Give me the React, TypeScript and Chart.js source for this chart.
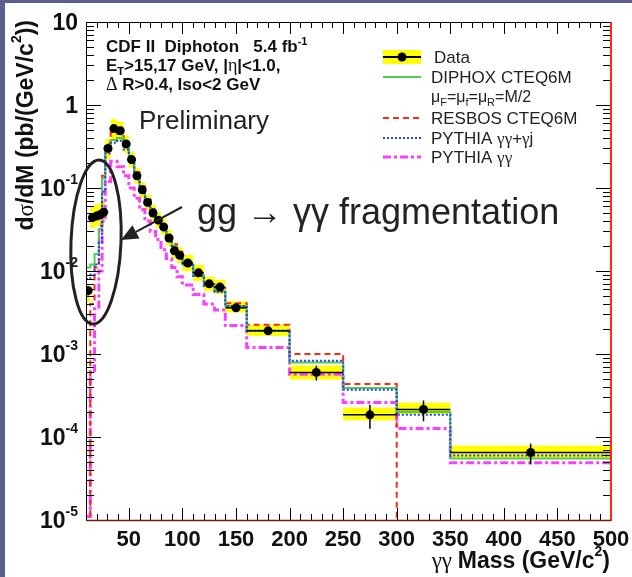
import React, { useEffect, useRef } from "react";
import { Chart, registerables } from "chart.js";
Chart.register(...registerables);

const W = 632;
const H = 577;

// Bin edges (GeV/c^2)
const binEdges = [10, 14, 18, 22, 25, 28, 33, 39, 45, 50, 55, 60, 65, 70, 75, 80, 85, 90, 95, 100, 110, 120, 130, 140, 160, 200, 250, 300, 350, 500];

// Measured dσ/dM (pb/(GeV/c^2))
const dataValues = [5.8e-3, 0.044, 0.046, 0.048, 0.051, 0.30, 0.52, 0.49, 0.34, 0.22, 0.14, 0.095, 0.067, 0.050, 0.041, 0.034, 0.025, 0.0175, 0.0155, 0.0125, 0.0095, 0.0070, 0.0064, 0.0036, 0.0019, 6.0e-4, 1.85e-4, 2.15e-4, 6.5e-5];
const dataStatRel = [0.12, 0.1, 0.1, 0.1, 0.1, 0.05, 0.04, 0.04, 0.04, 0.04, 0.04, 0.04, 0.04, 0.04, 0.04, 0.05, 0.05, 0.05, 0.05, 0.05, 0.05, 0.06, 0.06, 0.08, 0.10, 0.20, 0.32, 0.28, 0.28];
const dataSysUpRel = [0.15, 0.38, 0.38, 0.38, 0.38, 0.30, 0.30, 0.28, 0.26, 0.25, 0.25, 0.25, 0.25, 0.25, 0.25, 0.25, 0.25, 0.25, 0.25, 0.25, 0.25, 0.22, 0.22, 0.20, 0.18, 0.21, 0.22, 0.20, 0.21];
const dataSysDnRel = [0.28, 0.25, 0.25, 0.25, 0.25, 0.25, 0.30, 0.25, 0.22, 0.20, 0.20, 0.20, 0.20, 0.20, 0.20, 0.20, 0.20, 0.20, 0.20, 0.20, 0.20, 0.18, 0.18, 0.12, 0.13, 0.18, 0.14, 0.12, 0.15];

// Theory predictions per bin
const diphoxValues = [0.011, 0.012, 0.016, 0.032, 0.13, 0.32, 0.38, 0.40, 0.31, 0.21, 0.145, 0.10, 0.072, 0.053, 0.041, 0.032, 0.025, 0.020, 0.016, 0.012, 0.0088, 0.0068, 0.0057, 0.0038, 0.0019, 7.9e-4, 3.9e-4, 2.0e-4, 5.5e-5];
const resbosValues = [0, 0.004, 0.011, 0.035, 0.14, 0.34, 0.47, 0.45, 0.33, 0.23, 0.155, 0.105, 0.076, 0.056, 0.043, 0.034, 0.027, 0.021, 0.017, 0.0128, 0.0095, 0.0072, 0.0062, 0.0041, 0.00225, 1.0e-3, 4.35e-4, 0, 0];
const pythiaGjValues = [0.008, 0.009, 0.012, 0.022, 0.09, 0.26, 0.35, 0.37, 0.29, 0.20, 0.14, 0.098, 0.071, 0.052, 0.040, 0.031, 0.024, 0.019, 0.0155, 0.0118, 0.0087, 0.0066, 0.0056, 0.0038, 0.0019, 8.3e-4, 3.7e-4, 1.85e-4, 6.0e-5];
const pythiaGGValues = [1.1e-5, 6e-4, 3.5e-3, 0.010, 0.04, 0.12, 0.21, 0.18, 0.14, 0.10, 0.075, 0.055, 0.040, 0.030, 0.024, 0.018, 0.014, 0.011, 0.0085, 0.0068, 0.0052, 0.0040, 0.0034, 0.0022, 0.0012, 5.7e-4, 2.6e-4, 1.27e-4, 4.9e-5];

// Axis ticks
const xTickLabels = [50, 100, 150, 200, 250, 300, 350, 400, 450, 500];
const yDecades = [-5, -4, -3, -2, -1, 0, 1];

const COL_GREEN = "#50cc50";
const COL_RED = "#ff2a12";
const COL_BLUE = "#1f3cff";
const COL_MAG = "#ff3cff";
const COL_YEL = "#ffff00";

const SANS = '"Liberation Sans", Arial, Helvetica, sans-serif';
const SERIF = '"Liberation Serif", "DejaVu Serif", serif';
const B = (s: number) => `bold ${s}px ${SANS}`;
const N = (s: number) => `${s}px ${SANS}`;
const G = (s: number) => `${s}px ${SERIF}`;

const binCenters = binEdges.slice(0, -1).map((e, i) => (e + binEdges[i + 1]) / 2);

function histPoints(values: number[]) {
  const floor = 1e-9;
  const pts = values.map((v, i) => ({ x: binEdges[i], y: v > 0 ? v : floor }));
  const last = values[values.length - 1];
  pts.push({ x: binEdges[binEdges.length - 1], y: last > 0 ? last : floor });
  return pts;
}

type Piece = { t: string; f: string; dy?: number };
function drawRich(ctx: CanvasRenderingContext2D, x: number, y: number, pieces: Piece[], align: "left" | "right" = "left") {
  ctx.textAlign = "left";
  ctx.textBaseline = "alphabetic";
  let w = 0;
  for (const p of pieces) {
    ctx.font = p.f;
    w += ctx.measureText(p.t).width;
  }
  let cx = align === "right" ? x - w : x;
  for (const p of pieces) {
    ctx.font = p.f;
    ctx.fillText(p.t, cx, y + (p.dy || 0));
    cx += ctx.measureText(p.t).width;
  }
  return w;
}

function seg(ctx: CanvasRenderingContext2D, x0: number, y0: number, x1: number, y1: number) {
  ctx.beginPath();
  ctx.moveTo(x0, y0);
  ctx.lineTo(x1, y1);
  ctx.stroke();
}

const cdfPlugin = {
  id: "cdfPlugin",
  beforeDraw(chart: any) {
    const ctx = chart.ctx as CanvasRenderingContext2D;
    ctx.save();
    ctx.fillStyle = "#5b5e8e";
    ctx.fillRect(0, 0, W, H);
    ctx.fillStyle = "#ffffff";
    ctx.fillRect(5, 3, W - 5, H - 3);
    ctx.restore();
  },
  beforeDatasetsDraw(chart: any) {
    const ctx = chart.ctx as CanvasRenderingContext2D;
    const a = chart.chartArea;
    const x = chart.scales.x;
    const y = chart.scales.y;
    ctx.save();
    ctx.beginPath();
    ctx.rect(a.left, a.top, a.right - a.left, a.bottom - a.top);
    ctx.clip();
    ctx.fillStyle = COL_YEL;
    dataValues.forEach((v, i) => {
      const x0 = x.getPixelForValue(binEdges[i]);
      const x1 = x.getPixelForValue(binEdges[i + 1]);
      const y0 = y.getPixelForValue(v * (1 + dataSysUpRel[i]));
      const y1 = y.getPixelForValue(v * (1 - dataSysDnRel[i]));
      ctx.fillRect(x0, y0, x1 - x0, y1 - y0);
    });
    ctx.restore();
  },
  beforeDatasetDraw(chart: any, args: any) {
    if (args.index !== 0) return;
    const ctx = chart.ctx as CanvasRenderingContext2D;
    const x = chart.scales.x;
    const y = chart.scales.y;
    ctx.save();
    ctx.strokeStyle = "#000";
    ctx.lineWidth = 1.5;
    dataValues.forEach((v, i) => {
      const px = x.getPixelForValue(binCenters[i]);
      const py = y.getPixelForValue(v);
      seg(ctx, x.getPixelForValue(binEdges[i]), py, x.getPixelForValue(binEdges[i + 1]), py);
      seg(ctx, px, y.getPixelForValue(v * (1 + dataStatRel[i])), px, y.getPixelForValue(v * (1 - dataStatRel[i])));
    });
    ctx.restore();
  },
  afterDatasetsDraw(chart: any) {
    const ctx = chart.ctx as CanvasRenderingContext2D;
    const a = chart.chartArea;
    const x = chart.scales.x;
    const y = chart.scales.y;
    ctx.save();
    ctx.strokeStyle = "#000";
    ctx.lineWidth = 1;
    // x ticks (inward, bottom and top)
    for (let v = binEdges[0]; v <= 500; v += 10) {
      const px = Math.round(x.getPixelForValue(v)) + 0.5;
      const len = v % 50 === 0 ? 12 : 6;
      seg(ctx, px, a.bottom, px, a.bottom - len);
      seg(ctx, px, a.top, px, a.top + len);
    }
    // y ticks (inward, left and right)
    for (const d of yDecades) {
      for (let k = 1; k <= 9; k++) {
        if (d === 1 && k > 1) break;
        const v = k * Math.pow(10, d);
        const py = Math.round(y.getPixelForValue(v)) + 0.5;
        const len = k === 1 ? 15 : 8;
        seg(ctx, a.left, py, a.left + len, py);
        seg(ctx, a.right, py, a.right - len, py);
      }
    }
    // frame
    ctx.strokeRect(Math.round(a.left) + 0.5, Math.round(a.top) + 0.5, Math.round(a.right - a.left), Math.round(a.bottom - a.top));
    ctx.strokeStyle = COL_RED;
    ctx.lineWidth = 2;
    seg(ctx, a.right, a.top, a.right, a.bottom + 1);
    ctx.strokeStyle = "#7a1a10";
    ctx.lineWidth = 1.5;
    seg(ctx, a.left, a.bottom + 0.5, a.right, a.bottom + 0.5);
    ctx.restore();
  },
  afterDraw(chart: any) {
    const ctx = chart.ctx as CanvasRenderingContext2D;
    const a = chart.chartArea;
    const x = chart.scales.x;
    const y = chart.scales.y;
    ctx.save();
    ctx.fillStyle = "#111";
    // x tick labels
    ctx.font = B(22);
    ctx.textAlign = "center";
    ctx.textBaseline = "alphabetic";
    for (const v of xTickLabels) {
      ctx.fillText(String(v), x.getPixelForValue(v), a.bottom + 26);
    }
    // y tick labels
    for (const d of yDecades) {
      const py = y.getPixelForValue(Math.pow(10, d));
      if (d === 0) {
        drawRich(ctx, 78, py + 8, [{ t: "1", f: B(23) }], "right");
      } else if (d === 1) {
        drawRich(ctx, 78, py + 8, [{ t: "10", f: B(23) }], "right");
      } else {
        drawRich(ctx, 78, py + 8, [
          { t: "10", f: B(23) },
          { t: String(d), f: B(14), dy: -12 },
        ], "right");
      }
    }
    // x title
    drawRich(ctx, 610, 568, [
      { t: "γγ ", f: G(23) },
      { t: "Mass (GeV/c", f: B(23) },
      { t: "2", f: B(14), dy: -12 },
      { t: ")", f: B(23) },
    ], "right");
    // y title (rotated)
    ctx.save();
    ctx.translate(33, 20);
    ctx.rotate(-Math.PI / 2);
    drawRich(ctx, 0, 0, [
      { t: "d", f: B(23) },
      { t: "σ", f: G(23) },
      { t: "/dM (pb/(GeV/c", f: B(23) },
      { t: "2", f: B(14), dy: -12 },
      { t: "))", f: B(23) },
    ], "right");
    ctx.restore();

    // info text
    ctx.fillStyle = "#111";
    drawRich(ctx, 106, 52, [
      { t: "CDF II  Diphoton   5.4 fb", f: B(17) },
      { t: "-1", f: B(11), dy: -7 },
    ]);
    drawRich(ctx, 106, 71, [
      { t: "E", f: B(17) },
      { t: "T", f: B(11), dy: 4 },
      { t: ">15,17 GeV, |", f: B(17) },
      { t: "η", f: G(18) },
      { t: "|<1.0,", f: B(17) },
    ]);
    drawRich(ctx, 106, 90, [
      { t: "Δ", f: G(18) },
      { t: " R>0.4, Iso<2 GeV", f: B(17) },
    ]);
    ctx.fillStyle = "#222";
    drawRich(ctx, 139, 129, [{ t: "Preliminary", f: N(26) }]);
    drawRich(ctx, 197, 224, [{ t: "gg → γγ fragmentation", f: N(36) }]);

    // legend
    const lx0 = 383, lx1 = 421, tx = 431;
    ctx.fillStyle = COL_YEL;
    ctx.fillRect(lx0, 50, lx1 - lx0, 14);
    ctx.strokeStyle = "#000";
    ctx.lineWidth = 2;
    seg(ctx, lx0, 57, lx1, 57);
    ctx.fillStyle = "#000";
    ctx.beginPath();
    ctx.arc((lx0 + lx1) / 2, 57, 4.5, 0, Math.PI * 2);
    ctx.fill();
    ctx.lineWidth = 2;
    ctx.strokeStyle = COL_GREEN;
    seg(ctx, lx0, 77, lx1, 77);
    ctx.strokeStyle = COL_RED;
    ctx.setLineDash([6, 4]);
    seg(ctx, lx0, 118, lx1, 118);
    ctx.strokeStyle = COL_BLUE;
    ctx.setLineDash([2, 2]);
    seg(ctx, lx0, 138, lx1, 138);
    ctx.strokeStyle = COL_MAG;
    ctx.lineWidth = 3;
    ctx.setLineDash([8, 3, 3, 3]);
    seg(ctx, lx0, 157, lx1, 157);
    ctx.setLineDash([]);

    ctx.fillStyle = "#222";
    drawRich(ctx, tx + 3, 63, [{ t: "Data", f: N(17) }]);
    drawRich(ctx, tx, 83, [{ t: "DIPHOX CTEQ6M", f: N(17) }]);
    drawRich(ctx, tx, 102, [
      { t: "μ", f: N(16) },
      { t: "F", f: N(11), dy: 4 },
      { t: "=μ", f: N(16) },
      { t: "f", f: N(11), dy: 4 },
      { t: "=μ", f: N(16) },
      { t: "R", f: N(11), dy: 4 },
      { t: "=M/2", f: N(16) },
    ]);
    drawRich(ctx, tx, 124, [{ t: "RESBOS CTEQ6M", f: N(17) }]);
    drawRich(ctx, tx, 144, [
      { t: "PYTHIA ", f: N(17) },
      { t: "γγ", f: G(17) },
      { t: "+", f: N(17) },
      { t: "γ", f: G(17) },
      { t: "j", f: N(17) },
    ]);
    drawRich(ctx, tx, 163, [
      { t: "PYTHIA ", f: N(17) },
      { t: "γγ", f: G(17) },
    ]);

    // ellipse annotation
    ctx.strokeStyle = "#222";
    ctx.lineWidth = 3;
    ctx.beginPath();
    ctx.ellipse(96, 242, 25, 82, 0.04, 0, Math.PI * 2);
    ctx.stroke();

    // arrow annotation
    const tailX = 182, tailY = 207, tipX = 121, tipY = 240;
    const ang = Math.atan2(tipY - tailY, tipX - tailX);
    const hl = 17, hw = 7.5;
    const bx = tipX - hl * Math.cos(ang), by = tipY - hl * Math.sin(ang);
    ctx.lineWidth = 2;
    seg(ctx, tailX, tailY, bx, by);
    ctx.fillStyle = "#222";
    ctx.beginPath();
    ctx.moveTo(tipX, tipY);
    ctx.lineTo(bx + hw * Math.sin(ang), by - hw * Math.cos(ang));
    ctx.lineTo(bx - hw * Math.sin(ang), by + hw * Math.cos(ang));
    ctx.closePath();
    ctx.fill();

    ctx.restore();
  },
};

export default function App() {
  const canvasRef = useRef<HTMLCanvasElement | null>(null);

  useEffect(() => {
    if (!canvasRef.current) return;
    const lineDs = (label: string, values: number[], color: string, width: number, dash: number[]) => ({
      label,
      data: histPoints(values),
      borderColor: color,
      borderWidth: width,
      borderDash: dash,
      stepped: true,
      pointRadius: 0,
      fill: false,
    });
    const chart = new Chart(canvasRef.current, {
      type: "line",
      data: {
        datasets: [
          {
            label: "Data",
            data: dataValues.map((v, i) => ({ x: binCenters[i], y: v })),
            showLine: false,
            pointRadius: 4.5,
            pointBackgroundColor: "#000",
            pointBorderColor: "#000",
            pointBorderWidth: 0,
          } as any,
          lineDs("PYTHIA γγ+γj", pythiaGjValues, COL_BLUE, 2, [2, 2]),
          lineDs("DIPHOX CTEQ6M", diphoxValues, COL_GREEN, 2, []),
          lineDs("RESBOS CTEQ6M", resbosValues, COL_RED, 2, [6, 4]),
          lineDs("PYTHIA γγ", pythiaGGValues, COL_MAG, 3, [8, 3, 3, 3]),
        ],
      },
      options: {
        animation: false,
        responsive: false,
        devicePixelRatio: 1,
        layout: { padding: { left: 86, top: 22, right: 21, bottom: 57 } },
        scales: {
          x: { type: "linear", min: 10, max: 500, display: false },
          y: { type: "logarithmic", min: 1e-5, max: 10, display: false },
        },
        plugins: {
          legend: { display: false },
          tooltip: { enabled: false },
        },
      },
      plugins: [cdfPlugin as any],
    });
    return () => chart.destroy();
  }, []);

  return (
    <div style={{ position: "absolute", left: 0, top: 0, width: W, height: H }}>
      <canvas ref={canvasRef} width={W} height={H} style={{ display: "block", width: W, height: H }} />
    </div>
  );
}
